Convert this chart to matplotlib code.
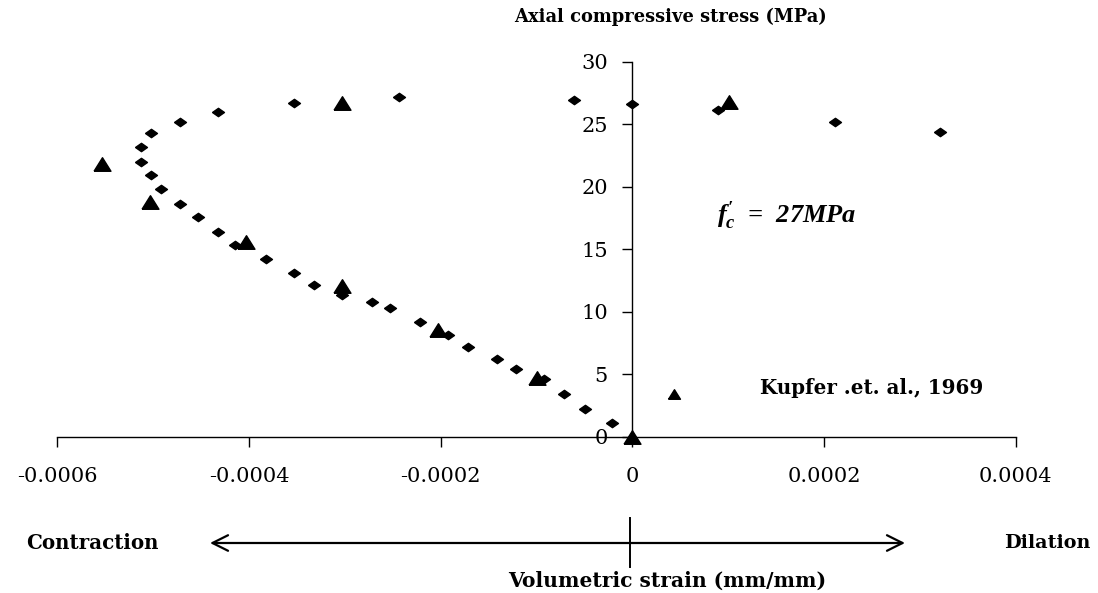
import matplotlib
matplotlib.use("Agg")
import matplotlib.pyplot as plt
from matplotlib.lines import Line2D
from matplotlib.ticker import FixedLocator, FixedFormatter

# ---- data ----
diamond_strain = [-0.0000209, -0.0000493, -0.0000709, -0.0000918, -0.000121, -0.000141,
                  -0.000171, -0.000192, -0.000221, -0.000253, -0.000272, -0.000303,
                  -0.000332, -0.000353, -0.000382, -0.000414, -0.000432, -0.000453,
                  -0.000472, -0.000492, -0.000502, -0.000513, -0.000513, -0.000502,
                  -0.000472, -0.000432, -0.000353, -0.000243, -0.0000611, 0.0,
                  0.0000894, 0.000211, 0.000321]
diamond_stress = [1.07, 2.2, 3.45, 4.6, 5.4, 6.2, 7.15, 8.1, 9.2, 10.3, 10.8, 11.3,
                  12.1, 13.1, 14.2, 15.3, 16.4, 17.55, 18.6, 19.8, 20.9, 22.0, 23.15,
                  24.3, 25.2, 26.0, 26.7, 27.15, 26.9, 26.6, 26.1, 25.2, 24.4]

triangle_strain = [0.0, -0.0000997, -0.000203, -0.000303, -0.000403, -0.000503,
                   -0.000553, -0.000303, 0.0001006]
triangle_stress = [0.0, 4.7, 8.5, 12.05, 15.6, 18.8, 21.8, 26.7, 26.8]

small_triangle_strain = [0.0000437]
small_triangle_stress = [3.4]

x_ticks = [-0.0006, -0.0004, -0.0002, 0.0, 0.0002, 0.0004]
x_tick_labels = ["-0.0006", "-0.0004", "-0.0002", "0", "0.0002", "0.0004"]
y_ticks = [0, 5, 10, 15, 20, 25, 30]
y_tick_labels = ["0", "5", "10", "15", "20", "25", "30"]

# ---- figure ----
W, H = 1098, 593
fig = plt.figure(figsize=(W / 100, H / 100), dpi=100)
fig.patch.set_facecolor("white")
ax = fig.add_axes([57.2 / W, 1 - 436.7 / H, (1015.7 - 57.2) / W, (436.7 - 61.7) / H])

ax.set_xlim(-0.0006, 0.0004)
ax.set_ylim(0, 30)

diamond = [(-1, 0), (0, 0.7), (1, 0), (0, -0.7), (-1, 0)]
tri = [(-1, -0.8), (1, -0.8), (0, 0.8), (-1, -0.8)]

ax.plot(diamond_strain, diamond_stress, linestyle="none", marker=diamond,
        markersize=8.6, color="black", clip_on=False, zorder=3)
ax.plot(triangle_strain, triangle_stress, linestyle="none", marker=tri,
        markersize=12.2, color="black", clip_on=False, zorder=4)
ax.plot(small_triangle_strain, small_triangle_stress, linestyle="none", marker=tri,
        markersize=8.6, color="black", clip_on=False, zorder=4)

for s in ["top", "right"]:
    ax.spines[s].set_visible(False)
ax.spines["left"].set_position(("data", 0))
ax.spines["bottom"].set_position(("data", 0))
for s in ["left", "bottom"]:
    ax.spines[s].set_linewidth(1.0)
    ax.spines[s].set_color("black")

ax.xaxis.set_major_locator(FixedLocator(x_ticks))
ax.xaxis.set_major_formatter(FixedFormatter(x_tick_labels))
ax.yaxis.set_major_locator(FixedLocator(y_ticks))
ax.yaxis.set_major_formatter(FixedFormatter(y_tick_labels))

ax.tick_params(axis="x", direction="out", length=7.5, width=1.0, pad=14)
ax.tick_params(axis="y", direction="out", length=7.5, width=1.0, pad=10)
for lab in ax.get_xticklabels() + ax.get_yticklabels():
    lab.set_fontfamily("DejaVu Serif")
    lab.set_fontsize(15)

# ---- texts ----
bold = dict(family="DejaVu Serif", weight="bold")
fig.text(670 / W, 1 - 17 / H, "Axial compressive stress (MPa)", ha="center", va="center",
         fontsize=12.9, **bold)
fig.text(871.5 / W, 1 - 388 / H, "Kupfer .et. al., 1969", ha="center", va="center",
         fontsize=14.3, **bold)
fig.text(92.5 / W, 1 - 543 / H, "Contraction", ha="center", va="center", fontsize=14.3, **bold)
fig.text(1047.5 / W, 1 - 543 / H, "Dilation", ha="center", va="center", fontsize=13.8, **bold)
fig.text(667.5 / W, 1 - 581 / H, "Volumetric strain (mm/mm)", ha="center", va="center",
         fontsize=14.6, **bold)

plt.rcParams["mathtext.fontset"] = "custom"
plt.rcParams["mathtext.it"] = "Liberation Serif:italic:bold"
plt.rcParams["mathtext.rm"] = "Liberation Serif:italic:bold"
plt.rcParams["mathtext.bf"] = "Liberation Serif:italic:bold"
fig.text(717 / W, 1 - 216 / H, r"$f_c^{\prime}$  =  27MPa", ha="left", va="center",
         fontsize=19, family="Liberation Serif", style="italic", weight="bold")

# ---- contraction / dilation arrow ----
ax.annotate("", xy=(210 / W, 1 - 543 / H), xytext=(905 / W, 1 - 543 / H),
            xycoords="figure fraction", textcoords="figure fraction",
            arrowprops=dict(arrowstyle="<->", lw=1.6, color="black", mutation_scale=28,
                            shrinkA=0, shrinkB=0))
fig.add_artist(Line2D([630 / W, 630 / W], [1 - 518 / H, 1 - 567 / H],
                      transform=fig.transFigure, color="black", lw=1.4))

fig.savefig("out.png", dpi=100, facecolor="white")
